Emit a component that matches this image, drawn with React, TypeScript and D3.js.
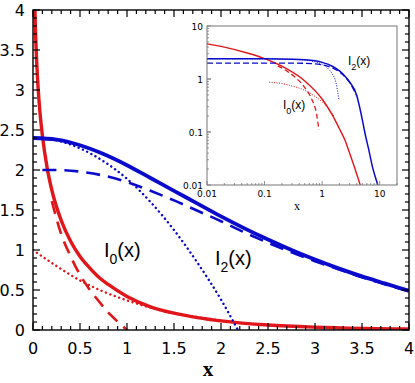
import React from "react";
import * as d3 from "d3";

// ---- main panel data (linear axes) ----
const k0X = [0.01, 0.02, 0.03, 0.05, 0.075, 0.1, 0.15, 0.2, 0.3, 0.4, 0.5, 0.6, 0.7, 0.8, 1.0, 1.25, 1.5, 1.75, 2.0, 2.5, 3.0, 3.5, 4.0];
const k0Y = [4.72, 4.03, 3.62, 3.11, 2.71, 2.43, 2.03, 1.75, 1.37, 1.11, 0.92, 0.78, 0.66, 0.57, 0.42, 0.29, 0.21, 0.155, 0.114, 0.062, 0.035, 0.02, 0.012];
const k0SmallX = [0.2, 0.3, 0.4, 0.5, 0.6, 0.7, 0.8, 0.9, 1.0];
const k0SmallY = [1.61, 1.2, 0.92, 0.69, 0.51, 0.36, 0.22, 0.105, 0.0];
const k0LargeX = [0, 0.25, 0.5, 0.75, 1.0, 1.25, 1.5, 1.75, 2.0];
const k0LargeY = [1.0, 0.8, 0.62, 0.48, 0.37, 0.28, 0.21, 0.16, 0.12];

const i2X = [0, 0.25, 0.5, 0.75, 1.0, 1.25, 1.5, 1.75, 2.0, 2.25, 2.5, 2.75, 3.0, 3.25, 3.5, 3.75, 4.0];
const i2Y = [2.4, 2.38, 2.31, 2.2, 2.06, 1.9, 1.74, 1.58, 1.42, 1.27, 1.13, 1.0, 0.88, 0.77, 0.67, 0.58, 0.49];
const i2DashX = [0.1, 0.25, 0.5, 0.75, 1.0, 1.25, 1.5, 1.75, 2.0, 2.25, 2.5, 2.75, 3.0, 3.25, 3.5, 3.75, 4.0];
const i2DashY = [2.0, 2.0, 1.98, 1.93, 1.85, 1.74, 1.62, 1.49, 1.36, 1.22, 1.09, 0.97, 0.86, 0.76, 0.66, 0.57, 0.48];
const i2DotX = [0, 0.25, 0.5, 0.75, 1.0, 1.25, 1.5, 1.75, 2.0, 2.18];
const i2DotY = [2.4, 2.37, 2.27, 2.11, 1.89, 1.6, 1.25, 0.84, 0.38, 0.0];

// ---- inset data (log-log) ----
const insK0X = [0.01, 0.02, 0.05, 0.1, 0.2, 0.5, 1, 1.5, 2, 2.5, 3, 4, 4.6];
const insK0Y = [4.6, 4.0, 3.1, 2.43, 1.75, 0.92, 0.42, 0.21, 0.115, 0.07, 0.04, 0.016, 0.01];
const insK0SmallX = [0.17, 0.25, 0.35, 0.5, 0.65, 0.8, 0.88];
const insK0SmallY = [1.77, 1.39, 1.05, 0.69, 0.43, 0.22, 0.11];
const insK0LargeX = [0.12, 0.2, 0.3, 0.5, 0.75, 1.0, 1.25, 1.6];
const insK0LargeY = [0.87, 0.82, 0.74, 0.61, 0.47, 0.37, 0.29, 0.2];
const insI2X = [0.01, 0.1, 0.3, 0.5, 0.75, 1, 1.5, 2, 2.5, 3, 4, 4.5, 5, 5.5, 6.5, 7.5, 8.5, 9.3];
const insI2Y = [2.4, 2.4, 2.37, 2.31, 2.2, 2.06, 1.74, 1.42, 1.13, 0.88, 0.49, 0.29, 0.17, 0.1, 0.045, 0.022, 0.0135, 0.01];
const insI2DashX = [0.01, 0.1, 0.5, 1, 1.5, 2, 3, 4];
const insI2DashY = [2.0, 2.0, 1.98, 1.85, 1.62, 1.36, 0.86, 0.48];
const insI2DotX = [0.01, 0.1, 0.3, 0.5, 0.75, 1.0, 1.25, 1.5, 1.75, 1.95];
const insI2DotY = [2.4, 2.4, 2.35, 2.27, 2.11, 1.89, 1.6, 1.25, 0.84, 0.42];

const xTicks = [0, 0.5, 1, 1.5, 2, 2.5, 3, 3.5, 4];
const yTicks = [0, 0.5, 1, 1.5, 2, 2.5, 3, 3.5, 4];
const insXTicks = [0.01, 0.1, 1, 10];
const insYTicks = [0.01, 0.1, 1, 10];

const RED = "#e0161b";
const BLUE = "#0a0acc";

const zip = (xs: number[], ys: number[]) => xs.map((x, i) => [x, ys[i]] as [number, number]);

export default function App() {
  const x = d3.scaleLinear().domain([0, 4]).range([33, 409]);
  const y = d3.scaleLinear().domain([0, 4]).range([330, 10]);
  const ix = d3.scaleLog().domain([0.01, 20]).range([207, 397]);
  const iy = d3.scaleLog().domain([0.01, 10]).range([185, 26]);

  const line = d3.line<[number, number]>().x((d) => x(d[0])).y((d) => y(d[1])).curve(d3.curveMonotoneX);
  const iline = d3.line<[number, number]>().x((d) => ix(d[0])).y((d) => iy(d[1])).curve(d3.curveMonotoneX);

  const minorX = d3.range(0, 4.0001, 0.1);
  const minorY = d3.range(0, 4.0001, 0.1);
  const isMajor = (v: number) => Math.abs(v * 2 - Math.round(v * 2)) < 1e-6;

  const insMinorX: number[] = [];
  [0.01, 0.1, 1, 10].forEach((d) => d3.range(1, 10).forEach((k) => { if (d * k <= 20) insMinorX.push(d * k); }));
  const insMinorY: number[] = [];
  [0.01, 0.1, 1].forEach((d) => d3.range(1, 11).forEach((k) => insMinorY.push(d * k)));

  const sans = "DejaVu Sans";
  const label = "Liberation Sans";

  return (
    <svg width={415} height={383} style={{ position: "absolute", left: 0, top: 0, background: "#fff" }}>
      <defs>
        <clipPath id="main-clip">
          <rect x={33} y={10} width={376} height={320} />
        </clipPath>
        <clipPath id="ins-clip">
          <rect x={207} y={26} width={190} height={159} />
        </clipPath>
      </defs>

      {/* main curves */}
      <g clipPath="url(#main-clip)" fill="none">
        <path d={line(zip(k0LargeX, k0LargeY))!} stroke={RED} strokeWidth={2.4} strokeDasharray="0.1 4.6" strokeLinecap="round" />
        <path d={line(zip(k0SmallX, k0SmallY))!} stroke={RED} strokeWidth={2.6} strokeDasharray="13 8" />
        <path d={line(zip(k0X, k0Y))!} stroke={RED} strokeWidth={3.4} />
        <path d={line(zip(i2DotX, i2DotY))!} stroke={BLUE} strokeWidth={2.4} strokeDasharray="0.1 4.6" strokeLinecap="round" />
        <path d={line(zip(i2DashX, i2DashY))!} stroke={BLUE} strokeWidth={2.6} strokeDasharray="14 8" />
        <path d={line(zip(i2X, i2Y))!} stroke={BLUE} strokeWidth={3.8} />
      </g>

      {/* main frame + ticks */}
      <rect x={33} y={10} width={376} height={320} fill="none" stroke="#000" strokeWidth={1.4} />
      <g stroke="#000" strokeWidth={1.2}>
        {minorX.map((v, i) => {
          const len = isMajor(v) ? 7 : 4;
          return (
            <g key={"tx" + i}>
              <line x1={x(v)} x2={x(v)} y1={330} y2={330 - len} />
              <line x1={x(v)} x2={x(v)} y1={10} y2={10 + len} />
            </g>
          );
        })}
        {minorY.map((v, i) => {
          const len = isMajor(v) ? 7 : 4;
          return (
            <g key={"ty" + i}>
              <line x1={33} x2={33 + len} y1={y(v)} y2={y(v)} />
              <line x1={409} x2={409 - len} y1={y(v)} y2={y(v)} />
            </g>
          );
        })}
      </g>
      <g fontFamily={sans} fontSize={16} fill="#000">
        {xTicks.map((v) => (
          <text key={"xl" + v} x={x(v)} y={354} textAnchor="middle">{String(v)}</text>
        ))}
        {yTicks.map((v) => (
          <text key={"yl" + v} x={25} y={y(v) + 6} textAnchor="end">{String(v)}</text>
        ))}
      </g>
      <text x={208} y={376} textAnchor="middle" fontFamily="Liberation Serif" fontWeight="bold" fontSize={21}>x</text>

      <text x={104} y={257} fontFamily={label} fontSize={20}>
        I<tspan fontSize={14} dy={7}>0</tspan><tspan dy={-7}>(x)</tspan>
      </text>
      <text x={215} y={265} fontFamily={label} fontSize={20}>
        I<tspan fontSize={14} dy={7}>2</tspan><tspan dy={-7}>(x)</tspan>
      </text>

      {/* inset */}
      <rect x={207} y={26} width={190} height={159} fill="#fff" />
      <g clipPath="url(#ins-clip)" fill="none">
        <path d={iline(zip(insK0LargeX, insK0LargeY))!} stroke={RED} strokeWidth={1} strokeDasharray="1 1.5" />
        <path d={iline(zip(insK0SmallX, insK0SmallY))!} stroke={RED} strokeWidth={1.3} strokeDasharray="5 3" />
        <path d={iline(zip(insK0X, insK0Y))!} stroke={RED} strokeWidth={1.4} />
        <path d={iline(zip(insI2DotX, insI2DotY))!} stroke={BLUE} strokeWidth={1} strokeDasharray="1 1.5" />
        <path d={iline(zip(insI2DashX, insI2DashY))!} stroke={BLUE} strokeWidth={1.3} strokeDasharray="6 3" />
        <path d={iline(zip(insI2X, insI2Y))!} stroke={BLUE} strokeWidth={1.5} />
      </g>
      <rect x={207} y={26} width={190} height={159} fill="none" stroke="#777" strokeWidth={1} />
      <g stroke="#777" strokeWidth={0.8}>
        {insMinorX.map((v, i) => {
          const len = insXTicks.includes(v) ? 4 : 2;
          return <line key={"ix" + i} x1={ix(v)} x2={ix(v)} y1={185} y2={185 - len} />;
        })}
        {insMinorY.map((v, i) => {
          const len = insYTicks.some((t) => Math.abs(t - v) < 1e-9) ? 4 : 2;
          return <line key={"iy" + i} x1={207} x2={207 + len} y1={iy(v)} y2={iy(v)} />;
        })}
      </g>
      <g fontFamily={sans} fontSize={9} fill="#000">
        {insXTicks.map((v) => (
          <text key={"ixl" + v} x={ix(v)} y={197} textAnchor="middle">{String(v)}</text>
        ))}
        {insYTicks.map((v) => (
          <text key={"iyl" + v} x={203} y={iy(v) + 3.5} textAnchor="end">{String(v)}</text>
        ))}
      </g>
      <text x={297} y={210} textAnchor="middle" fontFamily="Liberation Serif" fontSize={12}>x</text>
      <text x={348} y={65} fontFamily={label} fontSize={12}>
        I<tspan fontSize={9} dy={5}>2</tspan><tspan dy={-5}>(x)</tspan>
      </text>
      <text x={283} y={109} fontFamily={label} fontSize={12}>
        I<tspan fontSize={9} dy={5}>0</tspan><tspan dy={-5}>(x)</tspan>
      </text>
    </svg>
  );
}
